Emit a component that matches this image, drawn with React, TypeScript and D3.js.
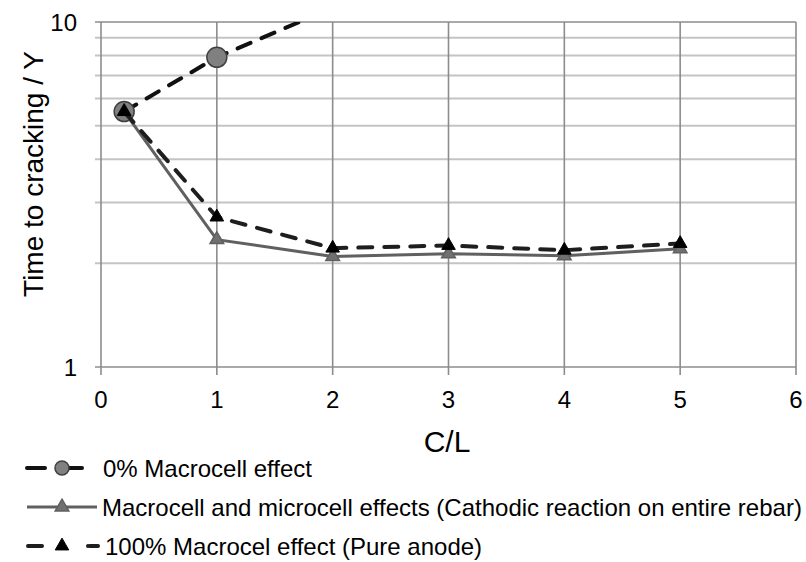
import * as d3 from "d3";
import { useEffect, useRef } from "react";

// C/L ratios and time to cracking (years)
const clNoMacro = [0.2, 1, 2];
const yearsNoMacro = [5.5, 7.9, 11];

const clRatios = [0.2, 1, 2, 3, 4, 5];
const yearsMacroMicro = [5.5, 2.34, 2.09, 2.13, 2.1, 2.2];
const yearsFullMacro = [5.5, 2.72, 2.21, 2.25, 2.18, 2.28];

const xTicks = [0, 1, 2, 3, 4, 5, 6];
const yGridTicks = [1, 2, 3, 4, 5, 6, 7, 8, 9, 10];
const yLabelTicks = [1, 10];

const legendLabels = [
  "0% Macrocell effect",
  "Macrocell and microcell effects (Cathodic reaction on entire rebar)",
  "100% Macrocel effect (Pure anode)",
];

const width = 806;
const height = 562;
const font = "'Liberation Sans', Arial, sans-serif";

export default function App() {
  const svgRef = useRef<SVGSVGElement>(null);

  useEffect(() => {
    if (!svgRef.current) return;
    const svg = d3.select(svgRef.current);
    svg.selectAll("*").remove();

    const x = d3.scaleLinear().domain([0, 6]).range([101, 796]);
    const y = d3.scaleLog().domain([1, 10]).range([367, 22]);

    svg
      .append("defs")
      .append("clipPath")
      .attr("id", "plot-clip")
      .append("rect")
      .attr("x", 90)
      .attr("y", 22)
      .attr("width", 720)
      .attr("height", 360);

    // horizontal grid (minor lighter, 1 and 10 darker)
    const hGrid = svg.append("g");
    hGrid
      .selectAll("line")
      .data(yGridTicks)
      .enter()
      .append("line")
      .attr("x1", 95)
      .attr("x2", x(6))
      .attr("y1", (d) => y(d))
      .attr("y2", (d) => y(d))
      .style("stroke", (d) => (d === 1 || d === 10 ? "#8c8c8c" : "#c4c4c4"))
      .style("stroke-width", (d) => (d === 1 || d === 10 ? 1.6 : 2));

    // vertical grid with tick marks below axis
    svg
      .append("g")
      .selectAll("line")
      .data(xTicks)
      .enter()
      .append("line")
      .attr("x1", (d) => x(d))
      .attr("x2", (d) => x(d))
      .attr("y1", y(10))
      .attr("y2", y(1) + 8)
      .style("stroke", "#8c8c8c")
      .style("stroke-width", 1.6);

    // tick labels
    svg
      .append("g")
      .selectAll("text")
      .data(xTicks)
      .enter()
      .append("text")
      .attr("x", (d) => x(d))
      .attr("y", 408)
      .attr("text-anchor", "middle")
      .style("font-family", font)
      .style("font-size", "24px")
      .style("fill", "#000")
      .text((d) => d);

    svg
      .append("g")
      .selectAll("text")
      .data(yLabelTicks)
      .enter()
      .append("text")
      .attr("x", 77)
      .attr("y", (d) => y(d) + 8.5)
      .attr("text-anchor", "end")
      .style("font-family", font)
      .style("font-size", "24px")
      .style("fill", "#000")
      .text((d) => d);

    // axis titles
    svg
      .append("text")
      .attr("x", 447)
      .attr("y", 452)
      .attr("text-anchor", "middle")
      .style("font-family", font)
      .style("font-size", "30px")
      .text("C/L");

    svg
      .append("text")
      .attr("transform", `translate(43,174) rotate(-90)`)
      .attr("text-anchor", "middle")
      .style("font-family", font)
      .style("font-size", "28px")
      .text("Time to cracking / Y");

    const line = d3
      .line<[number, number]>()
      .x((d) => x(d[0]))
      .y((d) => y(d[1]));

    const tri = d3.symbol().type(d3.symbolTriangle).size(80);

    const plot = svg.append("g").attr("clip-path", "url(#plot-clip)");

    // 0% macrocell
    const noMacro = clNoMacro.map((c, i) => [c, yearsNoMacro[i]] as [number, number]);
    plot
      .append("path")
      .attr("d", line(noMacro))
      .style("fill", "none")
      .style("stroke", "#111")
      .style("stroke-width", 4)
      .style("stroke-dasharray", "14,12")
      .style("stroke-linecap", "round");
    plot
      .selectAll(".c0")
      .data(noMacro.filter((d) => d[1] <= 10))
      .enter()
      .append("circle")
      .attr("class", "c0")
      .attr("cx", (d) => x(d[0]))
      .attr("cy", (d) => y(d[1]))
      .attr("r", 10)
      .style("fill", "#808080")
      .style("stroke", "#404040")
      .style("stroke-width", 1.5);

    // macrocell and microcell
    const macroMicro = clRatios.map((c, i) => [c, yearsMacroMicro[i]] as [number, number]);
    plot
      .append("path")
      .attr("d", line(macroMicro))
      .style("fill", "none")
      .style("stroke", "#606060")
      .style("stroke-width", 3);
    plot
      .selectAll(".t1")
      .data(macroMicro)
      .enter()
      .append("path")
      .attr("class", "t1")
      .attr("d", tri)
      .attr("transform", (d) => `translate(${x(d[0])},${y(d[1])})`)
      .style("fill", "#707070")
      .style("stroke", "#606060")
      .style("stroke-width", 1.5);

    // 100% macrocell
    const fullMacro = clRatios.map((c, i) => [c, yearsFullMacro[i]] as [number, number]);
    plot
      .append("path")
      .attr("d", line(fullMacro))
      .style("fill", "none")
      .style("stroke", "#1e1e1e")
      .style("stroke-width", 4)
      .style("stroke-dasharray", "14,12")
      .style("stroke-linecap", "round");
    plot
      .selectAll(".t2")
      .data(fullMacro)
      .enter()
      .append("path")
      .attr("class", "t2")
      .attr("d", tri)
      .attr("transform", (d) => `translate(${x(d[0])},${y(d[1])})`)
      .style("fill", "#000")
      .style("stroke", "#000")
      .style("stroke-width", 1);

    // legend
    const rowsY = [468, 507, 546];
    const legend = svg.append("g");
    // row 1
    legend
      .append("line")
      .attr("x1", 27)
      .attr("x2", 82)
      .attr("y1", rowsY[0])
      .attr("y2", rowsY[0])
      .style("stroke", "#111")
      .style("stroke-width", 4)
      .style("stroke-dasharray", "18,40")
      .style("stroke-linecap", "round");
    legend
      .append("line")
      .attr("x1", 62)
      .attr("x2", 82)
      .attr("y1", rowsY[0])
      .attr("y2", rowsY[0])
      .style("stroke", "#111")
      .style("stroke-width", 4)
      .style("stroke-linecap", "round");
    legend
      .append("circle")
      .attr("cx", 62)
      .attr("cy", rowsY[0])
      .attr("r", 7)
      .style("fill", "#808080")
      .style("stroke", "#404040")
      .style("stroke-width", 1.5);
    // row 2
    legend
      .append("line")
      .attr("x1", 27)
      .attr("x2", 97)
      .attr("y1", rowsY[1])
      .attr("y2", rowsY[1])
      .style("stroke", "#606060")
      .style("stroke-width", 3);
    legend
      .append("path")
      .attr("d", tri)
      .attr("transform", `translate(62,${rowsY[1]})`)
      .style("fill", "#707070")
      .style("stroke", "#606060")
      .style("stroke-width", 1.5);
    // row 3
    legend
      .append("line")
      .attr("x1", 28)
      .attr("x2", 98)
      .attr("y1", rowsY[2])
      .attr("y2", rowsY[2])
      .style("stroke", "#1e1e1e")
      .style("stroke-width", 4)
      .style("stroke-dasharray", "14,46,0,8")
      .style("stroke-linecap", "round");
    legend
      .append("line")
      .attr("x1", 90)
      .attr("x2", 96)
      .attr("y1", rowsY[2])
      .attr("y2", rowsY[2])
      .style("stroke", "#1e1e1e")
      .style("stroke-width", 4)
      .style("stroke-linecap", "round");
    legend
      .append("path")
      .attr("d", tri)
      .attr("transform", `translate(62,${rowsY[2]})`)
      .style("fill", "#000")
      .style("stroke", "#000");

    legend
      .selectAll("text")
      .data(legendLabels)
      .enter()
      .append("text")
      .attr("x", (_, i) => (i === 1 ? 102 : i === 0 ? 103 : 105))
      .attr("y", (_, i) => rowsY[i] + 8.5)
      .style("font-family", font)
      .style("font-size", "24px")
      .style("fill", "#000")
      .text((d) => d);
  }, []);

  return (
    <svg
      ref={svgRef}
      width={width}
      height={height}
      style={{ position: "absolute", left: 0, top: 0, background: "#fff" }}
    />
  );
}
